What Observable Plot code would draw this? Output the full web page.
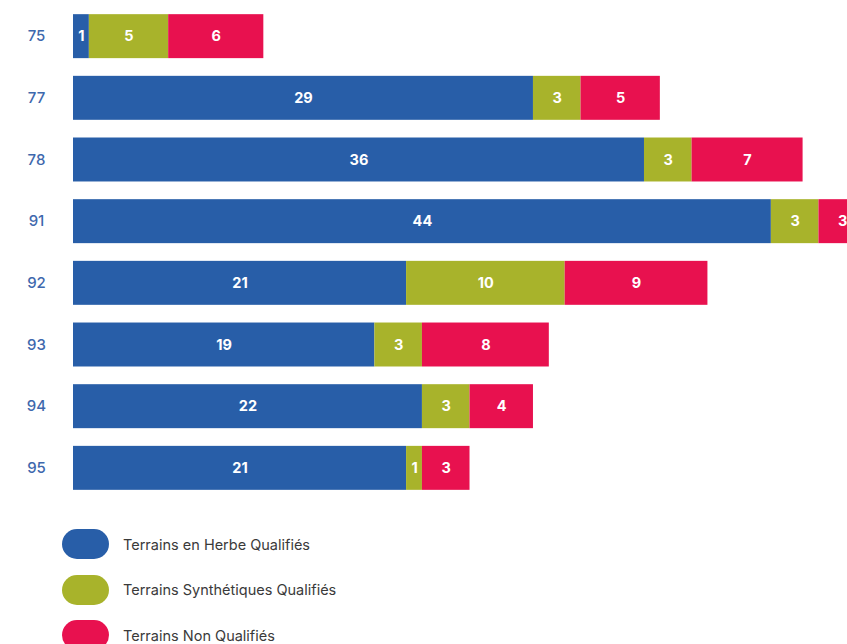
<!DOCTYPE html>
<html>
<head>
<meta charset="utf-8">
<script src="https://cdn.jsdelivr.net/npm/d3@7"></script>
<script src="https://cdn.jsdelivr.net/npm/@observablehq/plot@0.6"></script>
<style>
  html, body { margin: 0; padding: 0; background: #fff; overflow: hidden; }
  #chart { width: 847px; height: 644px; position: relative; }
  .legend { position: absolute; left: 62px; top: 529px; font-family: Inter, "Open Sans", sans-serif; }
  .item { display: flex; align-items: center; height: 30px; margin-bottom: 15.5px; }
  .sw { width: 47px; height: 30px; border-radius: 15px; }
  .lab { margin-left: 14px; font-size: 14.5px; color: #3a3a3a; font-weight: 400; }
</style>
</head>
<body>
<div id="chart"></div>
<script>
const departments = ["75", "77", "78", "91", "92", "93", "94", "95"];
const series = ["Terrains en Herbe Qualifiés", "Terrains Synthétiques Qualifiés", "Terrains Non Qualifiés"];
const herbe = [1, 29, 36, 44, 21, 19, 22, 21];
const synthetiques = [5, 3, 3, 3, 10, 3, 3, 1];
const nonQualifies = [6, 5, 7, 3, 9, 8, 4, 3];
const colors = ["#285ea8", "#a8b32b", "#e8114f"];

const data = [];
departments.forEach((d, i) => {
  data.push({dept: d, type: series[0], value: herbe[i]});
  data.push({dept: d, type: series[1], value: synthetiques[i]});
  data.push({dept: d, type: series[2], value: nonQualifies[i]});
});

const chart = Plot.plot({
  width: 847,
  height: 500,
  marginLeft: 73,
  marginRight: 0,
  marginTop: 8,
  marginBottom: 4,
  style: {fontFamily: "Inter, 'Open Sans', sans-serif", overflow: "visible"},
  x: {domain: [0, 48.8], axis: null},
  y: {domain: departments, paddingInner: 0.287, paddingOuter: 0.1, round: false, label: null},
  color: {domain: series, range: colors},
  marks: [
    Plot.barX(data, Plot.stackX({x: "value", y: "dept", z: "type", fill: "type", order: null})),
    Plot.text(data, Plot.stackX({x: "value", y: "dept", z: "type", text: d => String(d.value), fill: "white", fontWeight: "bold", fontSize: 14.5, order: null})),
    Plot.axisY({tickSize: 0, tickPadding: 37, textAnchor: "middle", fill: "#3e68ad", fontSize: 15, fontWeight: 500, label: null})
  ]
});
const container = document.getElementById("chart");
container.appendChild(chart);

const legend = document.createElement("div");
legend.className = "legend";
series.forEach((s, i) => {
  const item = document.createElement("div");
  item.className = "item";
  const sw = document.createElement("div");
  sw.className = "sw";
  sw.style.background = colors[i];
  const lab = document.createElement("span");
  lab.className = "lab";
  lab.textContent = s;
  item.appendChild(sw);
  item.appendChild(lab);
  legend.appendChild(item);
});
container.appendChild(legend);
</script>
</body>
</html>
